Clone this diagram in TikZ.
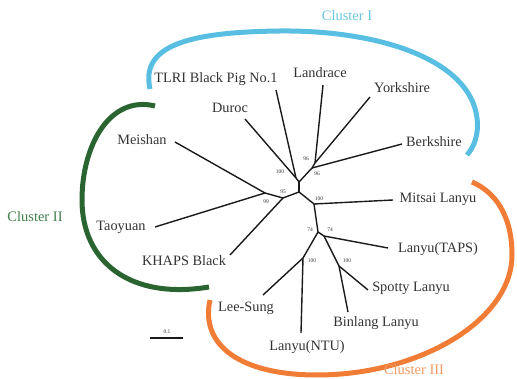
\documentclass[tikz,border=0pt]{standalone}
\usepackage{fontspec}
\setmainfont{Liberation Serif}
\usepackage{tikz}
\usetikzlibrary{
arrows.meta,
positioning,
calc
}
\definecolor{TreeInk}{HTML}{1A1A1A}
\definecolor{TaxonGray}{HTML}{333333}
\definecolor{ClusterBlue}{HTML}{58BFE2}
\definecolor{ClusterBlueText}{HTML}{6EC6E2}
\definecolor{ClusterGreen}{HTML}{2A6430}
\definecolor{ClusterGreenText}{HTML}{3F7F4C}
\definecolor{ClusterOrange}{HTML}{F07C35}
\definecolor{ClusterOrangeText}{HTML}{F29A62}
\tikzset{
taxon/.style={inner sep=0pt, text=TaxonGray, font=\fontsize{14.3}{16}\selectfont},
boot/.style={inner sep=0pt, text=TaxonGray, font=\fontsize{5.5}{6}\selectfont},
branch/.style={draw=TreeInk, line width=1.4pt},
clusterarc/.style={line width=5pt},
clusterlabel/.style={inner sep=0pt, font=\fontsize{14.5}{16}\selectfont}
}

\begin{document}
\begin{tikzpicture}[x=1pt, y=-1pt]
\useasboundingbox (0,0) rectangle (517,379);

\coordinate (nDT) at (296,178);
\coordinate (nLY) at (315,163);
\coordinate (nLYB) at (312,168);
\coordinate (nU) at (299,182);
\coordinate (nC) at (299,192);
\coordinate (n95) at (283,198);
\coordinate (n99) at (265,193);
\coordinate (nMit) at (314,204);
\coordinate (n74a) at (318,232);
\coordinate (n74b) at (324,236);
\coordinate (nNTU) at (303,258);
\coordinate (nSpot) at (339,266);

\coordinate (tDuroc) at (245,119);
\coordinate (tTLRI) at (276,90);
\coordinate (tLandrace) at (323,85);
\coordinate (tYorkshire) at (370,97);
\coordinate (tBerkshire) at (402,144);
\coordinate (tMitsai) at (393,200);
\coordinate (tTAPS) at (388,248);
\coordinate (tSpotty) at (368,290);
\coordinate (tBinlang) at (348,312);
\coordinate (tNTU) at (301,333);
\coordinate (tLeeSung) at (263,295);
\coordinate (tKHAPS) at (230,255);
\coordinate (tTaoyuan) at (155,227);
\coordinate (tMeishan) at (175,142);

\node[taxon] (duroc) at (230,108) {Duroc};
\node[taxon] (tlri) at (216,79) {TLRI Black Pig No.1};
\node[taxon] (landrace) at (320,73) {Landrace};
\node[taxon] (yorkshire) at (402,88) {Yorkshire};
\node[taxon] (berkshire) at (434,142) {Berkshire};
\node[taxon] (mitsai) at (438,199) {Mitsai Lanyu};
\node[taxon] (taps) at (438,249) {Lanyu(TAPS)};
\node[taxon] (spotty) at (411,288) {Spotty Lanyu};
\node[taxon] (binlang) at (376,323) {Binlang Lanyu};
\node[taxon] (ntu) at (307,347) {Lanyu(NTU)};
\node[taxon] (leesung) at (246,308) {Lee-Sung};
\node[taxon] (khaps) at (184,261) {KHAPS Black};
\node[taxon] (taoyuan) at (121,227) {Taoyuan};
\node[taxon] (meishan) at (142,140) {Meishan};

\node[boot] (bDT) at (280,172) {100};
\node[boot] (bLY) at (306,159) {96};
\node[boot] (bLYB) at (317,174) {96};
\node[boot] (b95) at (283,192) {95};
\node[boot] (b99) at (266,202) {99};
\node[boot] (bMit) at (319,199) {100};
\node[boot] (b74a) at (310,230) {74};
\node[boot] (b74b) at (330,230) {74};
\node[boot] (bNTU) at (312,261) {100};
\node[boot] (bSpot) at (347,261) {100};

\draw[branch] (nU) -- (nDT);
\draw[branch] (nDT) -- (tDuroc);
\draw[branch] (nDT) -- (tTLRI);
\draw[branch] (nU) -- (nLYB);
\draw[branch] (nLYB) -- (nLY);
\draw[branch] (nLY) -- (tLandrace);
\draw[branch] (nLY) -- (tYorkshire);
\draw[branch] (nLYB) -- (tBerkshire);
\draw[branch] (nU) -- (nC);
\draw[branch] (nC) -- (n95);
\draw[branch] (n95) -- (n99);
\draw[branch] (n99) -- (tMeishan);
\draw[branch] (n99) -- (tTaoyuan);
\draw[branch] (n95) -- (tKHAPS);
\draw[branch] (nC) -- (nMit);
\draw[branch] (nMit) -- (tMitsai);
\draw[branch] (nMit) -- (n74a);
\draw[branch] (n74a) -- (nNTU);
\draw[branch] (nNTU) -- (tLeeSung);
\draw[branch] (nNTU) -- (tNTU);
\draw[branch] (n74a) -- (n74b);
\draw[branch] (n74b) -- (tTAPS);
\draw[branch] (n74b) -- (nSpot);
\draw[branch] (nSpot) -- (tSpotty);
\draw[branch] (nSpot) -- (tBinlang);

\coordinate (sbL) at (150,338);
\coordinate (sbR) at (183,338);
\draw[branch] (sbL) -- (sbR);
\node[boot] (sblabel) at (167,332) {0.1};

\coordinate (c1a) at (150,89);
\coordinate (c1b) at (467,155);
\draw[clusterarc, draw=ClusterBlue] (c1a) .. controls (140,45) and (190,32) .. (280,31)
  .. controls (380,30) and (470,60) .. (477,118) .. controls (479,135) and (474,147) .. (c1b);
\node[clusterlabel, text=ClusterBlueText] (cl1) at (347,16) {Cluster I};

\coordinate (c2a) at (155,106);
\coordinate (c2b) at (209,287);
\draw[clusterarc, draw=ClusterGreen] (c2a) .. controls (110,95) and (82,145) .. (82,200)
  .. controls (82,262) and (130,300) .. (c2b);
\node[clusterlabel, text=ClusterGreenText] (cl2) at (35,217) {Cluster II};

\coordinate (c3a) at (210,300);
\coordinate (c3b) at (472,182);
\draw[clusterarc, draw=ClusterOrange] (c3a) .. controls (200,345) and (240,375) .. (317,375)
  .. controls (420,375) and (512,320) .. (512,255) .. controls (512,215) and (495,192) .. (c3b);
\node[clusterlabel, text=ClusterOrangeText] (cl3) at (414,370) {Cluster III};
\end{tikzpicture}
\end{document}
